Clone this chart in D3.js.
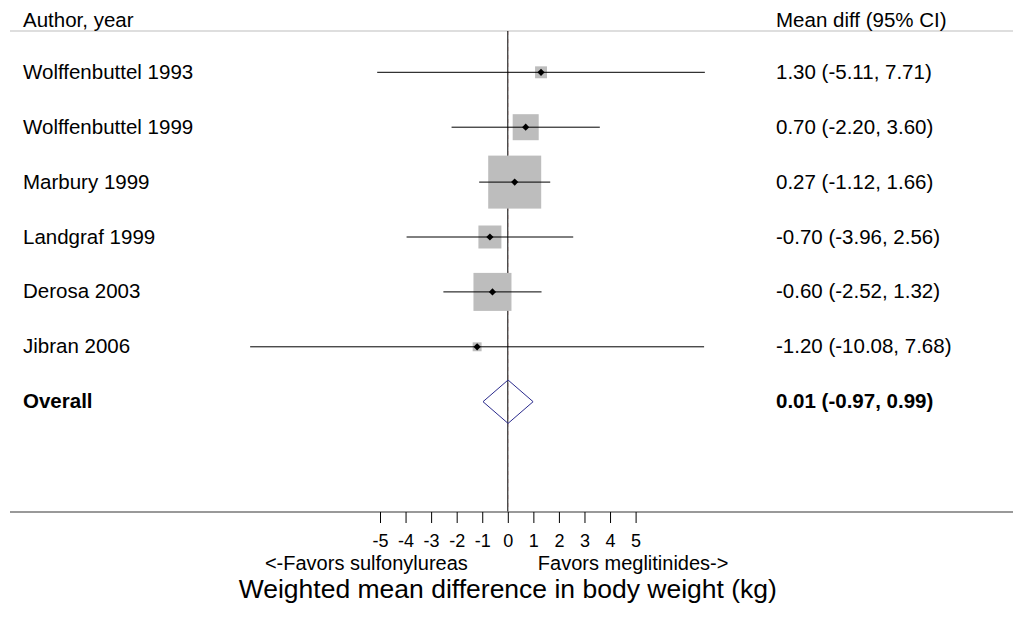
<!DOCTYPE html>
<html>
<head>
<meta charset="utf-8">
<script src="https://cdn.jsdelivr.net/npm/d3@7"></script>
<style>
  html, body { margin: 0; padding: 0; background: #fff; }
  svg { display: block; font-family: "Liberation Sans", Arial, sans-serif; }
</style>
</head>
<body>
<svg id="chart" width="1023" height="618"></svg>
<script>
// ---- data ----
const studies = ["Wolffenbuttel 1993", "Wolffenbuttel 1999", "Marbury 1999", "Landgraf 1999", "Derosa 2003", "Jibran 2006"];
const meanDiff = [1.30, 0.70, 0.27, -0.70, -0.60, -1.20];
const ciLow    = [-5.11, -2.20, -1.12, -3.96, -2.52, -10.08];
const ciHigh   = [7.71, 3.60, 1.66, 2.56, 1.32, 7.68];
const weights  = [2.5, 11.9, 49.4, 9.3, 25.4, 1.4];   // % weight (box area)
const overall  = { label: "Overall", est: 0.01, lo: -0.97, hi: 0.99 };
const xTicks   = [-5, -4, -3, -2, -1, 0, 1, 2, 3, 4, 5];

const f2 = d3.format(".2f");
const fmt = v => f2(v).replace("\u2212", "-");
const fmtTick = v => String(v);
const FS = 20.5;
const svg = d3.select("#chart");

// ---- scales ----
const x = d3.scaleLinear().domain([-5, 5]).range([380, 635.6]);
const rows = studies.concat([overall.label]);
const y = d3.scalePoint().domain(rows).range([72.3, 401.7]);
const side = d3.scaleSqrt().domain([0, 49.4]).range([0, 53]);

// ---- header ----
svg.append("line").attr("x1", 10).attr("x2", 1013).attr("y1", 31).attr("y2", 31)
  .attr("stroke", "#bdbdbd").attr("stroke-width", 1);
svg.append("text").attr("x", 23).attr("y", 27).attr("font-size", FS).attr("fill", "#000").text("Author, year");
svg.append("text").attr("x", 776).attr("y", 27).attr("font-size", FS).attr("fill", "#000").text("Mean diff (95% CI)");

// ---- null line & overall line ----
svg.append("line").attr("x1", x(0)).attr("x2", x(0)).attr("y1", 31).attr("y2", 512)
  .attr("stroke", "#000").attr("stroke-width", 1);
svg.append("line").attr("x1", x(overall.est) + 0.3).attr("x2", x(overall.est) + 0.3).attr("y1", 31).attr("y2", 512)
  .attr("stroke", "#8b1a1a").attr("stroke-width", 0.5).attr("stroke-dasharray", "4,4").attr("opacity", 0.3);

// ---- study rows ----
const data = studies.map((s, i) => ({ s, m: meanDiff[i], lo: ciLow[i], hi: ciHigh[i], w: weights[i] }));
const g = svg.append("g");

g.selectAll("rect.box").data(data).join("rect")
  .attr("class", "box")
  .attr("x", d => x(d.m) - side(d.w) / 2)
  .attr("y", d => y(d.s) - side(d.w) / 2)
  .attr("width", d => side(d.w))
  .attr("height", d => side(d.w))
  .attr("fill", "#bdbdbd");

g.selectAll("line.ci").data(data).join("line")
  .attr("class", "ci")
  .attr("x1", d => x(d.lo)).attr("x2", d => x(d.hi))
  .attr("y1", d => y(d.s)).attr("y2", d => y(d.s))
  .attr("stroke", "#000").attr("stroke-width", 1);

const marker = d3.symbol().type(d3.symbolSquare).size(26);
g.selectAll("path.pt").data(data).join("path")
  .attr("class", "pt")
  .attr("d", marker)
  .attr("transform", d => `translate(${x(d.m)},${y(d.s)}) rotate(45)`)
  .attr("fill", "#000");

g.selectAll("text.lab").data(data).join("text")
  .attr("class", "lab")
  .attr("x", 23).attr("y", d => y(d.s) + 6.5)
  .attr("font-size", FS).attr("fill", "#000")
  .text(d => d.s);

g.selectAll("text.val").data(data).join("text")
  .attr("class", "val")
  .attr("x", 776).attr("y", d => y(d.s) + 6.5)
  .attr("font-size", FS).attr("fill", "#000")
  .text(d => `${fmt(d.m)} (${fmt(d.lo)}, ${fmt(d.hi)})`);

// ---- overall ----
const oy = y(overall.label);
const dh = 21.7;
svg.append("path")
  .attr("d", `M${x(overall.lo)},${oy} L${x(overall.est)},${oy - dh} L${x(overall.hi)},${oy} L${x(overall.est)},${oy + dh} Z`)
  .attr("fill", "none").attr("stroke", "#2a2a8c").attr("stroke-width", 1);
svg.append("text").attr("x", 23).attr("y", oy + 6.5).attr("font-size", FS).attr("font-weight", "bold")
  .text(overall.label);
svg.append("text").attr("x", 776).attr("y", oy + 6.5).attr("font-size", FS).attr("font-weight", "bold")
  .text(`${fmt(overall.est)} (${fmt(overall.lo)}, ${fmt(overall.hi)})`);

// ---- axis ----
svg.append("line").attr("x1", 10).attr("x2", 1013).attr("y1", 512).attr("y2", 512)
  .attr("stroke", "#777").attr("stroke-width", 1.5);
const axis = d3.axisBottom(x).tickValues(xTicks).tickSize(11).tickPadding(3).tickFormat(fmtTick);
const ag = svg.append("g").attr("transform", "translate(0,512)").call(axis);
ag.select(".domain").remove();
ag.selectAll(".tick line").attr("stroke", "#000");
ag.selectAll(".tick text").attr("font-size", 18).attr("font-family", "Liberation Sans, Arial, sans-serif")
  .attr("fill", "#000").attr("dy", null).attr("y", 35);

svg.append("text").attr("x", x(0) - 40).attr("y", 570).attr("text-anchor", "end").attr("font-size", 20)
  .text("<-Favors sulfonylureas");
svg.append("text").attr("x", x(0) + 30).attr("y", 570).attr("text-anchor", "start").attr("font-size", 20)
  .text("Favors meglitinides->");
svg.append("text").attr("x", x(0)).attr("y", 598).attr("text-anchor", "middle").attr("font-size", 26.5)
  .text("Weighted mean difference in body weight (kg)");
</script>
</body>
</html>
